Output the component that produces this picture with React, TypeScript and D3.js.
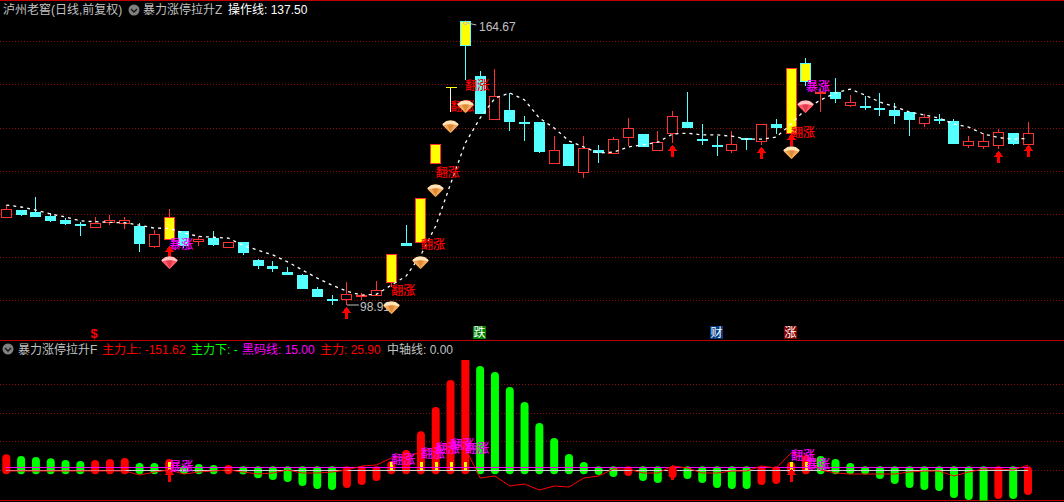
import React from "react";
import * as d3 from "d3";

// ---- candlestick data (price) ----
const opens = [119.3,120.9,120.4,119.5,118.6,117.7,117.0,118.2,117.8,117.3,112.6,114.3,116.0,113.7,114.4,112.4,113.4,109.3,107.9,106.5,105.8,102.6,100.2,100.4,101.1,101.3,104.3,113.3,113.6,131.9,149.5,164.67,151.9,142.0,144.1,141.3,141.3,131.9,136.3,129.7,134.8,134.2,137.9,138.6,134.9,138.8,141.3,137.3,135.9,134.9,137.5,136.9,140.9,138.8,154.9,147.9,148.2,145.3,144.9,144.5,144.1,143.6,141.0,142.0,141.6,136.0,135.8,136.0,138.7,136.2];
const closes = [121.1,119.8,119.3,118.4,117.7,117.3,117.8,118.6,118.7,113.1,115.3,119.3,112.6,114.2,112.8,113.4,110.9,107.9,107.3,105.8,102.6,100.8,100.0,101.4,101.2,102.4,110.7,112.6,123.7,136.2,149.5,159.0,143.1,147.2,141.3,141.0,134.4,134.9,131.2,135.2,134.2,137.4,140.0,135.5,136.6,142.6,139.9,136.9,135.5,136.3,137.2,140.9,139.9,153.8,150.8,148.2,146.6,145.8,144.5,144.1,142.7,141.7,142.4,141.9,136.2,136.8,136.8,138.9,136.2,138.7];
const highs = [122.05,120.9,123.9,120.1,119.1,118.2,119.3,119.7,119.2,117.8,116.3,121.1,116.0,115.0,116.0,113.4,113.5,109.5,109.1,107.6,106.2,103.1,101.2,104.2,101.6,104.5,110.7,117.4,123.7,136.2,149.5,164.67,153.1,153.6,147.9,142.7,141.3,138.0,136.3,138.0,136.0,137.9,142.2,138.6,139.2,143.8,148.2,140.8,138.0,139.2,137.5,140.9,141.9,153.8,156.1,148.9,151.5,147.5,147.3,147.9,145.7,143.6,143.1,143.1,141.9,138.0,138.7,139.6,138.7,141.2];
const lows = [119.3,119.6,119.3,118.2,117.5,114.9,117.0,117.5,116.6,111.2,112.2,114.3,112.1,112.6,112.6,112.4,110.5,107.2,106.6,105.8,102.6,100.8,98.91,98.91,100.0,101.3,103.1,112.6,113.6,131.9,143.6,151.0,143.1,142.0,139.1,136.9,134.2,131.9,131.2,128.3,131.9,133.9,135.7,135.4,134.9,136.4,139.9,135.9,133.5,134.2,134.9,135.9,138.5,138.8,149.7,143.6,145.7,144.8,144.1,142.7,140.9,138.1,140.1,140.9,136.2,135.3,135.0,135.0,135.9,136.2];
// candle indices painted yellow (signal days)
const yellowDays = [11, 26, 28, 29, 30, 31, 53, 54];

// 操作线
const operateLine = [122.05,121.6,120.9,119.97,119.3,118.4,118.2,118.05,117.95,117.4,116.7,116.65,115.6,114.8,114.6,114.4,112.7,111.6,110.5,108.9,107.0,105.15,103.5,102.1,101.2,101.4,103.5,105.6,110.5,117.2,126.9,136.4,142.2,146.8,148.0,146.4,142.2,139.9,136.9,135.5,134.1,134.3,135.5,136.0,136.6,138.5,138.7,138.3,138.3,138.0,137.3,137.3,137.8,140.8,144.3,146.4,148.0,148.9,147.5,145.9,144.8,143.6,142.9,142.2,140.8,140.1,138.5,137.7,137.3,137.5];

// marker anchors on the price panel: [candle index, price]
const upArrows: [number, number][] = [[23,98.43],[11,112.6],[45,135.95],[51,135.5],[53,138.5],[67,134.6],[69,135.95]];
const pinkGems: [number, number][] = [[11,110.0],[54,146.14]];
const orangeGems: [number, number][] = [[26,99.6],[28,110.0],[29,126.7],[30,141.5],[31,146.14],[53,135.5]];
const fanZhang: [number, number][] = [[26,103.8],[28,114.4],[29,131.1],[30,146.4],[31,151.2],[53,140.3]];
const baoZhang: [number, number][] = [[11,114.4],[54,151.0]];

// ---- indicator data ----
const powerBars = [60,51.5,46.5,40,31.5,26.5,31.5,36.5,41.5,16.5,16.5,36.5,3,11.5,6.5,6.5,-1,-20,-28.5,-38.5,-58.5,-73.5,-78.5,-68.5,-53.5,-33.5,26,81.5,175,296.5,431.5,580,501.5,471.5,396.5,321.5,216.5,141.5,61.5,21.5,-3.5,-13.5,-8.5,-33.5,-43.5,-20,-23.5,-43.5,-68.5,-73.5,-73.5,-53.5,-48.5,23,56.5,51.5,36.5,16.5,-1,-23.5,-48.5,-68.5,-78.5,-83.5,-118.5,-128.5,-152,-123.5,-123.5,-103.5];
const redBarDays = [0,6,7,8,11,15,23,24,25,26,27,28,29,30,31,42,45,51,52,53,54,67,69];
const mainLine = [-3.5,-3.5,-3.5,-3.5,-3.5,-3.5,-3.5,-3.5,-3.5,-23.5,-8.5,1.5,-18.5,-8.5,-3.5,1.5,-8.5,-18.5,-13.5,1.5,-13.5,-13.5,-8.5,1.5,21.5,26.5,61.5,66.5,91.5,116.5,136.5,111.5,-38.5,-28.5,-78.5,-68.5,-98.5,-78.5,-83.5,-38.5,-28.5,6.5,6.5,-13.5,-13.5,21.5,11.5,-13.5,-13.5,-3.5,-3.5,21.5,11.5,86.5,61.5,1.5,-13.5,-18.5,-18.5,-18.5,-18.5,-8.5,-3.5,-3.5,-28.5,-8.5,6.5,6.5,1.5,25.9];
const blackCodeLevel = 15;
const yellowBarLevel = 40;
const lowerFan: [number, number][] = [[26,87],[28,116],[29,141],[30,161],[31,141],[53,106]];
const lowerBao: [number, number][] = [[11,51],[54,61]];
const lowerArrows: [number, number, number][] = [[11,7,13],[53,7,13],[45,25,15]];

const topGridPrices = [160,150,140,130,120,110,100];
const lowerGridValues = [430,285,145,0];

const PRICE_FONT = "'Liberation Sans','Noto Sans CJK SC',sans-serif";
const RED = "#ff3232", CYAN = "#54ffff", YELLOW = "#ffff00", GRID = "#8c0c0c", BORDER = "#c00000";

const n = opens.length;
const x = d3.scaleLinear().domain([0, n - 1]).range([6.3, 1028]);
const y = d3.scaleLinear().domain([164.67, 98.91]).range([21, 305]);
const v = d3.scaleLinear().domain([0, 550]).range([470.3, 360.3]);
const px = (i: number) => Math.floor(x(i)) + 0.5;
const snap = (p: number) => Math.round(p) + 0.5;

function Gem({ i, top, pink }: { i: number; top: number; pink: boolean }) {
  const cx = px(i);
  const light = pink ? "#ffc4c4" : "#ffe4b8";
  const mid = pink ? "#ff5a66" : "#f2a95c";
  const deep = pink ? "#d8304a" : "#d8822c";
  return (
    <g transform={`translate(${cx},${Math.round(top)})`}>
      <path d="M-4,0 Q0,-0.8 4,0 L8,3 L7.5,4.5 L0,12 L-7.5,4.5 L-8,3 Z" fill={mid} />
      <path d="M-4,0 Q0,-0.8 4,0 L8,3 L7.5,4.5 Q0,1.5 -7.5,4.5 L-8,3 Z" fill={light} />
      <path d="M-3.5,4 Q0,3 3.5,4 L0,11 Z" fill={deep} opacity={0.75} />
      <path d="M-7.5,4.5 L-3.5,4 L0,12 Z M7.5,4.5 L3.5,4 L0,12 Z" fill={mid} />
    </g>
  );
}

function Arrow({ i, tip, h = 12 }: { i: number; tip: number; h?: number }) {
  const cx = px(i);
  return (
    <g transform={`translate(${cx},${Math.round(tip)})`} fill="#ff0000" shapeRendering="crispEdges">
      <path d="M0,0 L5,6 L-5,6 Z" />
      <rect x={-1.5} y={5} width={3} height={h - 5} />
    </g>
  );
}

function Icon({ cx, cy }: { cx: number; cy: number }) {
  return (
    <g>
      <circle cx={cx} cy={cy} r={5.5} fill="#808080" />
      <path d={`M${cx - 3},${cy - 1} L${cx},${cy + 2} L${cx + 3},${cy - 1}`} fill="none" stroke="#111" strokeWidth={1.3} />
    </g>
  );
}

function Label({ x: tx, y: ty, fill, children }: { x: number; y: number; fill: string; children: React.ReactNode }) {
  return (
    <text x={tx} y={ty} fill={fill} fontSize={12} fontFamily={PRICE_FONT}>
      {children}
    </text>
  );
}

function Badge({ cx, bg, fg, t }: { cx: number; bg: string; fg: string; t: string }) {
  return (
    <g>
      <rect x={cx - 6.5} y={326} width={13} height={13} fill={bg} />
      <text x={cx} y={337} textAnchor="middle" fill={fg} fontSize={12} fontFamily={PRICE_FONT}>{t}</text>
    </g>
  );
}

export default function App() {
  const operatePath = d3.line<number>().x((_, i) => x(i)).y((d) => y(d))(operateLine) || "";
  const mainPath = d3.line<number>().x((_, i) => x(i)).y((d) => v(d))(mainLine) || "";
  return (
    <svg width={1064} height={502} style={{ position: "fixed", left: 0, top: 0, background: "#000", display: "block" }}>
      <defs>
        <clipPath id="lower"><rect x={0} y={360} width={1064} height={140.5} /></clipPath>
      </defs>
      <rect x={0} y={0} width={1064} height={502} fill="#000" />
      {/* grids */}
      <g stroke={GRID} strokeDasharray="1 2" shapeRendering="crispEdges">
        {topGridPrices.map((p) => (
          <line key={p} x1={0} x2={1064} y1={snap(y(p))} y2={snap(y(p))} />
        ))}
        {lowerGridValues.map((p) => (
          <line key={p} x1={0} x2={1064} y1={snap(v(p))} y2={snap(v(p))} />
        ))}
      </g>
      {/* borders */}
      <g stroke={BORDER} shapeRendering="crispEdges">
        <rect x={0} y={0} width={1064} height={1} fill={BORDER} stroke="none" />
        <line x1={0} x2={1064} y1={340.5} y2={340.5} />
        <line x1={0} x2={1064} y1={500.5} y2={500.5} />
      </g>

      {/* candles */}
      <g shapeRendering="crispEdges">
        {opens.map((o, i) => {
          const c = closes[i];
          const up = c > o;
          const yellow = yellowDays.includes(i);
          const col = up ? RED : CYAN;
          const top = Math.round(y(Math.max(o, c)));
          const bot = Math.round(y(Math.min(o, c)));
          const cx = px(i);
          const hy = Math.round(y(highs[i]));
          const ly = Math.round(y(lows[i]));
          if (o === c) {
            return (
              <g key={i}>
                <line x1={cx} x2={cx} y1={hy} y2={ly} stroke="#f0f0f0" />
                <line x1={cx - 5} x2={cx + 6} y1={top + 0.5} y2={top + 0.5} stroke={YELLOW} />
              </g>
            );
          }
          return (
            <g key={i}>
              <line x1={cx} x2={cx} y1={hy} y2={top} stroke={col} />
              <line x1={cx} x2={cx} y1={bot} y2={ly} stroke={col} />
              {yellow ? (
                <rect x={cx - 5} y={top + 0.5} width={10} height={Math.max(bot - top, 1)} fill={YELLOW} stroke={col} />
              ) : up ? (
                <rect x={cx - 5} y={top + 0.5} width={10} height={Math.max(bot - top, 1)} fill="#000" stroke={col} />
              ) : (
                <rect x={cx - 5.5} y={top} width={11} height={Math.max(bot - top, 2)} fill={col} />
              )}
            </g>
          );
        })}
      </g>

      {/* 操作线 */}
      <path d={operatePath} fill="none" stroke="#fff" strokeWidth={1.3} strokeDasharray="3 4" />

      {/* signal words */}
      {fanZhang.map(([i, p]) => (
        <text key={i} x={x(i)} y={y(p) + 11} fill="#ff0000" fontSize={12} fontWeight={500} fontFamily={PRICE_FONT}>翻涨</text>
      ))}
      {baoZhang.map(([i, p]) => (
        <text key={i} x={x(i)} y={y(p) + 11} fill="#ff00ff" fontSize={12} fontWeight={500} fontFamily={PRICE_FONT}>暴涨</text>
      ))}
      {upArrows.map(([i, p]) => <Arrow key={i} i={i} tip={y(p)} />)}

      {/* extreme labels */}
      <g stroke="#c0c0c0" fill="none" strokeWidth={1}>
        <circle cx={x(31)} cy={y(164.67) + 2} r={1.8} />
        <path d={`M${x(31) + 2},${y(164.67) + 2} L${x(31) + 11},${y(164.67) + 4}`} />
        <path d={`M${x(23)},${y(98.91)} L${x(23) + 12},${y(98.91)}`} />
      </g>
      <Label x={479} y={y(164.67) + 10} fill="#c0c0c0">164.67</Label>
      <Label x={360} y={y(98.91) + 6} fill="#c0c0c0">98.91</Label>

      {pinkGems.map(([i, p]) => <Gem key={i} i={i} top={y(p)} pink />)}
      {orangeGems.map(([i, p]) => <Gem key={i} i={i} top={y(p)} pink={false} />)}

      {/* calendar badges */}
      <text x={94} y={338} textAnchor="middle" fill="#ff0000" fontSize={13} fontWeight="bold" fontFamily={PRICE_FONT}>$</text>
      <Badge cx={479.5} bg="#008000" fg="#ffffff" t="跌" />
      <Badge cx={716.5} bg="#003c84" fg="#ffffff" t="财" />
      <Badge cx={790.5} bg="#800000" fg="#ffffff" t="涨" />

      {/* titles */}
      <Label x={3} y={14} fill="#c0c0c0">泸州老窖(日线,前复权)</Label>
      <Icon cx={134} cy={10} />
      <Label x={143} y={14} fill="#c0c0c0">暴力涨停拉升Z</Label>
      <Label x={228} y={14} fill="#ffffff">操作线: 137.50</Label>

      <Icon cx={8} cy={349} />
      <Label x={18} y={354} fill="#c0c0c0">暴力涨停拉升F</Label>
      <Label x={102} y={354} fill="#ff0000">主力上: -151.62</Label>
      <Label x={191} y={354} fill="#00ff00">主力下: -</Label>
      <Label x={242} y={354} fill="#ff00ff">黑码线: {blackCodeLevel.toFixed(2)}</Label>
      <Label x={320} y={354} fill="#ff0000">主力: 25.90</Label>
      <Label x={387} y={354} fill="#c0c0c0">中轴线: 0.00</Label>

      {/* indicator bars */}
      <g clipPath="url(#lower)">
        {powerBars.map((b, i) => (
          <line key={i} x1={x(i)} x2={x(i)} y1={v(0)} y2={v(b)} strokeWidth={8} strokeLinecap="round"
            stroke={redBarDays.includes(i) ? "#ff0000" : "#00ff00"} />
        ))}
      </g>
      <g shapeRendering="crispEdges">
        {yellowDays.map((i) => (
          <rect key={i} x={Math.round(x(i)) - 1.5} y={Math.round(v(yellowBarLevel))} width={3} height={9} fill={YELLOW} />
        ))}
        <line x1={6} x2={1028} y1={467.5} y2={467.5} stroke="#ff00ff" strokeWidth={1} />
        <line x1={6} x2={1028} y1={470.5} y2={470.5} stroke="#d0d0d0" strokeWidth={1} />
      </g>
      <path d={mainPath} fill="none" stroke="#ff0000" strokeWidth={1} />
      {lowerArrows.map(([i, val, h]) => <Arrow key={i} i={i} tip={v(val)} h={h} />)}
      {lowerFan.map(([i, val]) => (
        <text key={i} x={x(i)} y={v(val) + 11} fill="#ff00ff" fontSize={12} fontWeight={500} fontFamily={PRICE_FONT}>翻涨</text>
      ))}
      {lowerBao.map(([i, val]) => (
        <text key={i} x={x(i)} y={v(val) + 11} fill="#ff00ff" fontSize={12} fontWeight={500} fontFamily={PRICE_FONT}>暴涨</text>
      ))}
    </svg>
  );
}
